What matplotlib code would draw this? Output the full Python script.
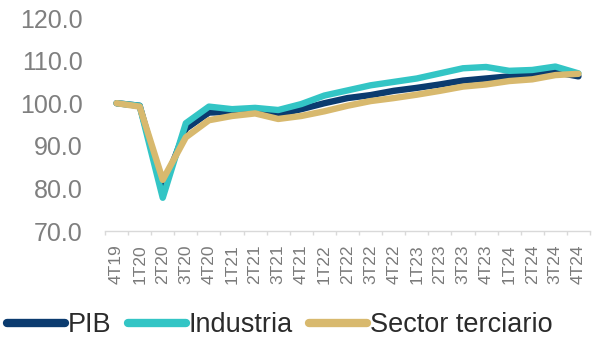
import matplotlib
matplotlib.use("Agg")
import matplotlib.pyplot as plt
import numpy as np

quarters = ["4T19", "1T20", "2T20", "3T20", "4T20", "1T21", "2T21", "3T21", "4T21",
            "1T22", "2T22", "3T22", "4T22", "1T23", "2T23", "3T23", "4T23",
            "1T24", "2T24", "3T24", "4T24"]
pib = [100.0, 99.4, 80.0, 94.0, 97.8, 98.0, 98.4, 97.4, 98.6, 100.0, 101.2, 101.9,
       102.9, 103.6, 104.4, 105.3, 105.8, 106.3, 106.6, 107.3, 106.3]
industria = [100.0, 99.4, 77.8, 95.3, 99.2, 98.6, 98.9, 98.4, 99.8, 101.8, 103.0, 104.2,
             105.0, 105.8, 107.0, 108.2, 108.5, 107.6, 107.8, 108.6, 107.0]
terciario = [100.0, 99.2, 82.0, 92.0, 96.0, 97.0, 97.6, 96.3, 97.0, 98.1, 99.4, 100.5,
             101.2, 102.0, 102.9, 103.9, 104.4, 105.2, 105.6, 106.6, 106.9]
yticks = [70, 80, 90, 100, 110, 120]

plt.rcParams['font.family'] = ['Liberation Sans', 'DejaVu Sans']

fig = plt.figure(figsize=(5.98, 3.42), dpi=100)
ax = fig.add_axes([105/598, 1-231/342, 485/598, 213/342])

x = np.arange(len(quarters))
lw = 4.6
ax.plot(x, pib, color="#0b3b6f", lw=lw, solid_capstyle="round", solid_joinstyle="round", label="PIB")
ax.plot(x, industria, color="#33c5c5", lw=lw, solid_capstyle="round", solid_joinstyle="round", label="Industria")
ax.plot(x, terciario, color="#d8b96e", lw=lw, solid_capstyle="round", solid_joinstyle="round", label="Sector terciario")

ax.set_xlim(-0.5, len(quarters) - 0.5)
ax.set_ylim(70, 120)
ax.set_yticks(yticks)
ax.set_yticklabels([f"{v:.1f}" for v in yticks])
ax.set_xticks(x)
ax.set_xticklabels(quarters, rotation=90)
ax.set_xticks(np.arange(-0.5, len(quarters), 1.0), minor=True)

for s in ["top", "right", "left"]:
    ax.spines[s].set_visible(False)
ax.spines["bottom"].set_color("#d9d9d9")
ax.spines["bottom"].set_linewidth(1)

ax.tick_params(axis="y", length=0, pad=16, labelsize=18, labelcolor="#7f7f7f")
ax.tick_params(axis="x", which="major", length=0, pad=9.5, labelsize=12.5, labelcolor="#7a7a7a")
ax.tick_params(axis="x", which="minor", length=3, color="#d9d9d9", width=1)

leg = fig.legend(loc="center left", bbox_to_anchor=(7/598, 1-325/342), ncol=3,
                 frameon=False, fontsize=19.5, handlelength=2.15, handletextpad=0.1,
                 columnspacing=0.6, borderpad=0, borderaxespad=0)
for t in leg.get_texts():
    t.set_color("#2b2b2b")
for h in leg.get_lines():
    h.set_linewidth(6)
    h.set_solid_capstyle("round")

fig.savefig("out.png", dpi=100)
